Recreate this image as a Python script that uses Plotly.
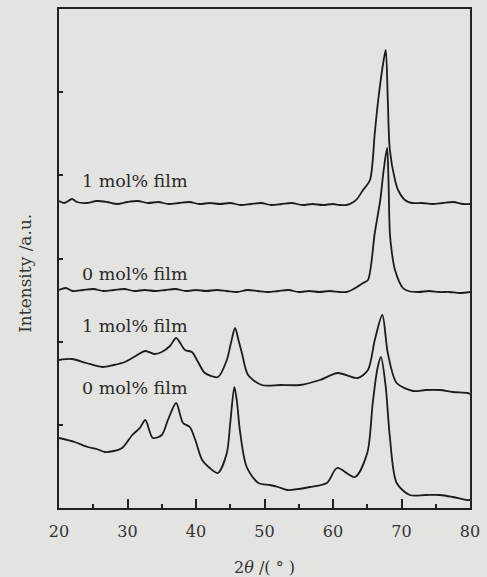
import plotly.graph_objects as go

# 2θ positions (degrees) and intensities (a.u.)
x_a = [20, 20.8, 21.9, 22.6, 24, 25.5, 27, 28.5, 30, 31.5, 33, 34.5, 36, 37.5, 39, 40.5, 42, 43.5, 45,
       46.5, 48, 49.5, 51, 52.5, 54, 55.5, 57, 58.5, 60, 61, 62, 63, 63.5, 64.4, 65.4, 66.1, 66.6,
       67.4, 67.7, 68.0, 68.3, 69.05, 69.5, 70.5, 71.5, 73, 74.5, 76, 77.5, 79, 80]
y_a = [307, 305, 309, 306, 305, 307, 306, 304, 306, 307, 305, 306, 304, 305, 306, 304, 305, 304, 305,
       303, 304, 305, 303, 304, 305, 303, 304, 303, 304, 303, 303, 306, 309, 318, 328, 375, 408,
       448, 458, 408, 358, 328, 318, 308, 305, 305, 304, 305, 306, 304, 304]

x_b = [20, 21, 22, 23.5, 25, 26.5, 28, 29.5, 31, 32.5, 34, 35.5, 37, 38.5, 40, 41.5, 43, 44.5, 46,
       47.5, 49, 50.5, 52, 53.5, 55, 56.5, 58, 59.5, 61, 62, 63, 64.4, 65.1, 66.1, 66.9, 67.4, 67.9,
       68.1, 68.3, 68.6, 69.05, 70.2, 71, 72.5, 74, 75.5, 77, 78.5, 80]
y_b = [218, 220, 217, 218, 219, 217, 218, 219, 217, 218, 217, 218, 219, 217, 218, 217, 218, 217, 216,
       218, 217, 216, 217, 218, 216, 217, 216, 217, 216, 216, 219, 225, 228, 275, 308, 338, 360,
       328, 275, 255, 238, 220, 217, 216, 217, 216, 216, 215, 216]

x_c = [20, 21.9, 24, 26.3, 28, 29.6, 31.2, 32.6, 34.0, 35.0, 36.2, 37.1, 38.4, 39.4, 40.3, 41.3, 43.2,
       44.5, 45.1, 45.7, 46.2, 46.7, 47.6, 49.6, 52.3, 55.2, 58.1, 60.7, 63.6, 65.1, 66.1, 67.2,
       68.0, 69.3, 71.7, 73.5, 75.6, 77.5, 79.6, 80]
y_c = [148, 149, 145, 141, 143, 146, 152, 157, 154, 156, 162, 170, 158, 156, 146, 135, 131,
       148, 165, 180, 168, 155, 133, 123, 123, 123, 128, 135, 130, 138, 168, 193,
       155, 125, 117, 118, 118, 116, 115, 114]

x_d = [20, 22.3, 24.2, 25.5, 26.7, 28, 29.2, 30.7, 31.8, 32.6, 33.7, 35.0, 35.9, 37.1, 38.1, 39.1,
       39.9, 40.9, 42, 43.2, 44.5, 45.0, 45.6, 46.0, 46.4, 47.4, 49.1, 50.8, 52, 53.3, 55, 56.6,
       59.1, 60.6, 63.2, 65.0, 65.8, 66.5, 67.0, 67.7, 68.3, 69.3, 71.2, 73.5, 75.6, 77.5, 79.6, 80]
y_d = [70, 66, 61, 59, 56, 57, 60, 73, 80, 88, 70, 73, 88, 105, 85, 81,
       68, 48, 40, 35, 55, 85, 121, 105, 78, 41, 25, 23, 21, 18, 19, 21,
       25, 40, 31, 55, 105, 140, 151, 121, 71, 25, 13, 13, 13, 11, 8, 8]

labels = ["1 mol% film", "0 mol% film", "1 mol% film", "0 mol% film"]
label_y = [327, 234, 182, 120]
label_x = 23.0

x_ticks = [20, 30, 40, 50, 60, 70, 80]
y_max = 499

bg = "#e3e3e1"
line_color = "#1c1c1c"
serif = "DejaVu Serif"
fig = go.Figure()
for xs, ys in [(x_a, y_a), (x_b, y_b), (x_c, y_c), (x_d, y_d)]:
    fig.add_trace(go.Scatter(x=xs, y=ys, mode="lines",
                             line=dict(color=line_color, width=1.8, shape="spline", smoothing=0.8),
                             showlegend=False, hoverinfo="skip"))

for t, yy in zip(labels, label_y):
    fig.add_annotation(x=label_x, y=yy, text=t, showarrow=False, xanchor="left", yanchor="middle",
                       font=dict(family=serif, size=17.5, color="#2a2a2a"))

fig.add_annotation(xref="paper", yref="paper", x=-0.083, y=0.471, text="Intensity /a.u.",
                   textangle=-90, showarrow=False, xanchor="center", yanchor="middle",
                   font=dict(family=serif, size=17, color="#333"))

fig.update_layout(
    width=487, height=577,
    margin=dict(l=59, r=17, t=9, b=69),
    paper_bgcolor=bg, plot_bgcolor=bg,
    xaxis=dict(range=[20, 80], tickvals=x_ticks, ticks="inside", ticklen=9, tickwidth=1.5,
               tickcolor="#222", minor=dict(dtick=5, ticks="inside", ticklen=4, tickcolor="#222", tickwidth=1.5),
               showgrid=False, zeroline=False, showline=True, linecolor="#222", linewidth=2, mirror=True,
               tickfont=dict(family=serif, size=16, color="#333"), ticklabelstandoff=8, automargin=False,
               title=dict(text="2<i>θ</i> /( ° )", font=dict(family=serif, size=16, color="#333"), standoff=31)),
    yaxis=dict(range=[0, y_max], tickvals=[y_max * k / 6 for k in range(1, 6)], ticks="inside", ticklen=4,
               tickwidth=1.5, tickcolor="#222", showticklabels=False, automargin=False,
               showgrid=False, zeroline=False, showline=True, linecolor="#222", linewidth=2, mirror=True),
)
fig.write_html("out.html", config={"displayModeBar": False},
               post_script="document.body.style.margin='0';document.body.style.background='%s';" % bg)
